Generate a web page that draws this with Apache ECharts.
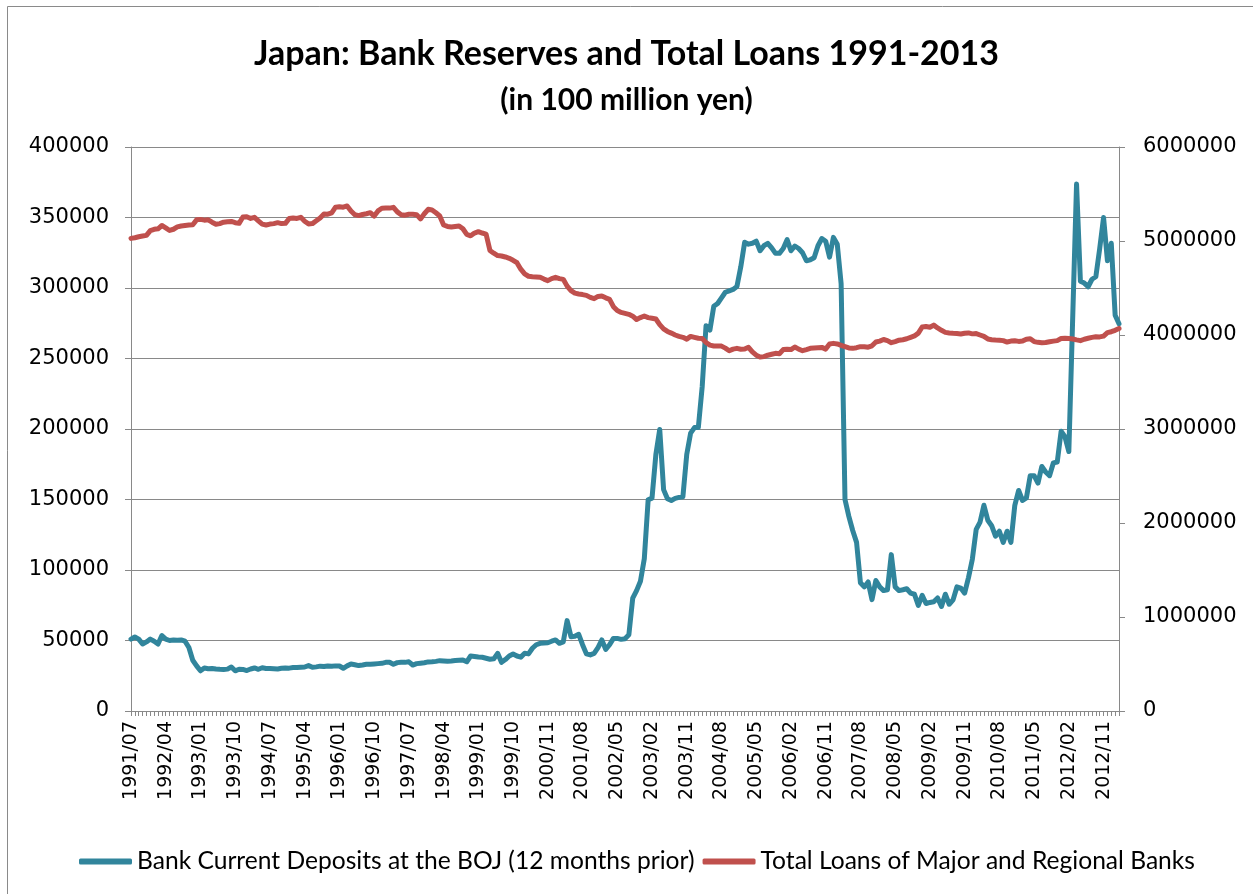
<!DOCTYPE html>
<html><head><meta charset="utf-8">
<script src="https://cdn.jsdelivr.net/npm/echarts@6/dist/echarts.min.js"></script>
<style>html,body{margin:0;padding:0;background:#fff}#chart{width:1253px;height:894px}</style>
</head><body><div id="chart"></div>
<script>
const categories = [
'1991/07','1991/08','1991/09','1991/10','1991/11','1991/12',
'1992/01','1992/02','1992/03','1992/04','1992/05','1992/06','1992/07','1992/08','1992/09','1992/10','1992/11','1992/12',
'1993/01','1993/02','1993/03','1993/04','1993/05','1993/06','1993/07','1993/08','1993/09','1993/10','1993/11','1993/12',
'1994/01','1994/02','1994/03','1994/04','1994/05','1994/06','1994/07','1994/08','1994/09','1994/10','1994/11','1994/12',
'1995/01','1995/02','1995/03','1995/04','1995/05','1995/06','1995/07','1995/08','1995/09','1995/10','1995/11','1995/12',
'1996/01','1996/02','1996/03','1996/04','1996/05','1996/06','1996/07','1996/08','1996/09','1996/10','1996/11','1996/12',
'1997/01','1997/02','1997/03','1997/04','1997/05','1997/06','1997/07','1997/08','1997/09','1997/10','1997/11','1997/12',
'1998/01','1998/02','1998/03','1998/04','1998/05','1998/06','1998/07','1998/08','1998/09','1998/10','1998/11','1998/12',
'1999/01','1999/02','1999/03','1999/04','1999/05','1999/06','1999/07','1999/08','1999/09','1999/10','1999/11','1999/12',
'2000/05','2000/06','2000/07','2000/08','2000/09','2000/10','2000/11','2000/12',
'2001/01','2001/02','2001/03','2001/04','2001/05','2001/06','2001/07','2001/08','2001/09','2001/10','2001/11','2001/12',
'2002/01','2002/02','2002/03','2002/04','2002/05','2002/06','2002/07','2002/08','2002/09','2002/10','2002/11','2002/12',
'2003/01','2003/02','2003/03','2003/04','2003/05','2003/06','2003/07','2003/08','2003/09','2003/10','2003/11','2003/12',
'2004/01','2004/02','2004/03','2004/04','2004/05','2004/06','2004/07','2004/08','2004/09','2004/10','2004/11','2004/12',
'2005/01','2005/02','2005/03','2005/04','2005/05','2005/06','2005/07','2005/08','2005/09','2005/10','2005/11','2005/12',
'2006/01','2006/02','2006/03','2006/04','2006/05','2006/06','2006/07','2006/08','2006/09','2006/10','2006/11','2006/12',
'2007/01','2007/02','2007/03','2007/04','2007/05','2007/06','2007/07','2007/08','2007/09','2007/10','2007/11','2007/12',
'2008/01','2008/02','2008/03','2008/04','2008/05','2008/06','2008/07','2008/08','2008/09','2008/10','2008/11','2008/12',
'2009/01','2009/02','2009/03','2009/04','2009/05','2009/06','2009/07','2009/08','2009/09','2009/10','2009/11','2009/12',
'2010/01','2010/02','2010/03','2010/04','2010/05','2010/06','2010/07','2010/08','2010/09','2010/10','2010/11','2010/12',
'2011/01','2011/02','2011/03','2011/04','2011/05','2011/06','2011/07','2011/08','2011/09','2011/10','2011/11','2011/12',
'2012/01','2012/02','2012/03','2012/04','2012/05','2012/06','2012/07','2012/08','2012/09','2012/10','2012/11','2012/12',
'2013/01','2013/02','2013/03'
];

const reserves = [
51000,52500,51000,47500,49000,51000,49500,47500,53500,51000,
50000,50300,50200,50400,49500,45000,36000,32000,28500,30500,
30000,30200,29800,29600,29500,29700,31200,28500,29600,29500,
28700,29800,30500,29600,30700,30200,30200,30000,29800,30300,
30500,30400,30800,30800,31000,31200,32200,31000,31300,31800,
31500,31900,31700,32000,31900,30300,32000,33300,32800,32200,
32600,33100,33200,33400,33600,33800,34500,34600,33100,34300,
34600,34500,34900,32600,33600,33900,34200,34800,34900,35200,
35700,35500,35300,35500,35800,36000,36200,34900,39000,38700,
38300,38100,37400,36700,37000,40900,34500,36500,39000,40400,
39000,38200,40900,40500,44500,47000,48000,48200,48400,49500,
50400,48000,49000,64100,52700,53000,54400,47000,40500,39800,
40900,45000,50400,43700,47000,51500,51500,50800,51200,54000,
80000,85400,92000,108000,149800,151000,182000,199700,157000,150500,
149300,150800,151500,152000,182000,197100,201000,201000,230000,273300,
270200,287000,289000,293000,297000,298000,299000,301000,315000,332400,
331100,331700,333200,326400,330000,331700,328500,324600,324600,328000,
334300,326400,329800,328000,325000,319300,320000,321500,330000,335100,
333200,321900,335900,331100,303000,150000,138000,128000,119600,91000,
88000,91500,79000,92500,88000,85400,86000,110900,88000,85400,
86000,86700,83600,82800,74900,82000,76200,77000,77500,80200,
74100,82800,75700,78800,88000,87200,83600,94600,107700,128800,
134000,145900,135300,131400,124000,127500,119600,127500,119600,145900,
156400,149300,151100,166900,166900,161600,173400,169500,166900,176000,
176600,198400,194500,184000,278600,373700,304800,303500,300900,306200,
308000,328000,350000,319300,331700,280700,274600
];

const loans = [
5028000,5035000,5045000,5053000,5060000,5110000,5124000,5130000,5165000,5140000,
5112000,5125000,5150000,5160000,5165000,5170000,5172000,5225000,5230000,5222000,
5225000,5200000,5178000,5185000,5200000,5205000,5208000,5195000,5188000,5255000,
5258000,5240000,5252000,5215000,5180000,5170000,5180000,5185000,5195000,5185000,
5188000,5240000,5245000,5240000,5252000,5210000,5182000,5185000,5215000,5245000,
5287000,5285000,5300000,5360000,5365000,5360000,5373000,5320000,5280000,5270000,
5282000,5290000,5301000,5265000,5320000,5348000,5350000,5350000,5358000,5310000,
5280000,5275000,5285000,5285000,5280000,5235000,5290000,5337000,5330000,5300000,
5266000,5170000,5155000,5150000,5155000,5160000,5130000,5070000,5055000,5085000,
5099000,5085000,5074000,4900000,4870000,4845000,4840000,4830000,4816000,4795000,
4769000,4700000,4650000,4625000,4620000,4618000,4614000,4595000,4578000,4600000,
4614000,4600000,4592000,4520000,4472000,4445000,4436000,4430000,4422000,4400000,
4386000,4410000,4415000,4395000,4379000,4301000,4260000,4240000,4230000,4220000,
4200000,4165000,4185000,4202000,4185000,4178000,4170000,4110000,4065000,4038000,
4020000,4000000,3985000,3975000,3956000,3985000,3975000,3965000,3962000,3920000,
3892000,3883000,3884000,3882000,3860000,3832000,3850000,3858000,3848000,3850000,
3869000,3820000,3785000,3765000,3770000,3785000,3795000,3805000,3800000,3845000,
3848000,3845000,3872000,3850000,3833000,3845000,3858000,3862000,3865000,3868000,
3850000,3905000,3911000,3905000,3890000,3876000,3862000,3858000,3865000,3876000,
3875000,3870000,3885000,3925000,3935000,3952000,3940000,3918000,3930000,3945000,
3950000,3960000,3975000,3990000,4020000,4085000,4090000,4082000,4105000,4075000,
4050000,4028000,4022000,4018000,4015000,4010000,4018000,4022000,4012000,4015000,
4000000,3985000,3958000,3950000,3947000,3945000,3940000,3925000,3935000,3938000,
3932000,3935000,3955000,3960000,3930000,3922000,3918000,3920000,3928000,3935000,
3940000,3962000,3965000,3962000,3958000,3948000,3940000,3955000,3965000,3975000,
3982000,3980000,3988000,4025000,4035000,4050000,4070000
];

const seriesNames = ['Bank Current Deposits at the BOJ (12 months prior)', 'Total Loans of Major and Regional Banks'];
const seriesColors = ['#31859C', '#C0504D'];
const titleText = 'Japan: Bank Reserves and Total Loans 1991-2013';
const subtitleText = '(in 100 million yen)';

const axisGray = '#898989';
const tickFont = 'DejaVu Sans';
const textFont = 'Lato';
const plain = v => String(v);

const chart = echarts.init(document.getElementById('chart'), null, {renderer: 'canvas'});
chart.setOption({
  animation: false,
  backgroundColor: '#ffffff',
  graphic: [{
    type: 'rect', silent: true, z: -1,
    shape: {x: 7.5, y: 6.5, width: 1400, height: 1000},
    style: {fill: 'none', stroke: '#8a8a8a', lineWidth: 1}
  }],
  title: [
    {text: titleText, left: 'center', top: 32,
     textStyle: {fontFamily: textFont, fontWeight: 'bold', fontSize: 34, color: '#000'}},
    {text: subtitleText, left: 'center', top: 80,
     textStyle: {fontFamily: textFont, fontWeight: 'bold', fontSize: 30, color: '#000'}}
  ],
  legend: {
    top: 844, left: 74, itemWidth: 53, itemHeight: 6, itemGap: 8, icon: 'roundRect',
    textStyle: {fontFamily: textFont, fontSize: 24.6, color: '#000'},
    data: seriesNames
  },
  grid: {left: 131, right: 134, top: 147, bottom: 183, containLabel: false},
  xAxis: {
    type: 'category', data: categories, boundaryGap: false,
    axisLine: {show: true, lineStyle: {color: axisGray, width: 1}},
    axisTick: {show: true, interval: 0, length: 5, lineStyle: {color: axisGray}},
    axisLabel: {interval: 8, rotate: 90, margin: 10, fontFamily: tickFont, fontSize: 19, color: '#000'},
    splitLine: {show: false}
  },
  yAxis: [
    {type: 'value', min: 0, max: 400000, interval: 50000, position: 'left',
     axisLine: {show: true, lineStyle: {color: axisGray, width: 1}},
     axisTick: {show: true, length: 6, lineStyle: {color: axisGray}},
     splitLine: {show: true, lineStyle: {color: axisGray, width: 1}},
     axisLabel: {margin: 22, fontFamily: tickFont, fontSize: 21, color: '#000', formatter: plain}},
    {type: 'value', min: 0, max: 6000000, interval: 1000000, position: 'right',
     axisLine: {show: true, lineStyle: {color: axisGray, width: 1}},
     axisTick: {show: true, length: 6, lineStyle: {color: axisGray}},
     splitLine: {show: false},
     axisLabel: {margin: 24, fontFamily: tickFont, fontSize: 21, color: '#000', formatter: plain}}
  ],
  series: [
    {name: seriesNames[0], type: 'line', yAxisIndex: 0, data: reserves, symbol: 'none', showSymbol: false,
     lineStyle: {color: seriesColors[0], width: 5, cap: 'round', join: 'round'},
     itemStyle: {color: seriesColors[0]}},
    {name: seriesNames[1], type: 'line', yAxisIndex: 1, data: loans, symbol: 'none', showSymbol: false,
     lineStyle: {color: seriesColors[1], width: 5, cap: 'round', join: 'round'},
     itemStyle: {color: seriesColors[1]}}
  ]
});
</script>
</body></html>
